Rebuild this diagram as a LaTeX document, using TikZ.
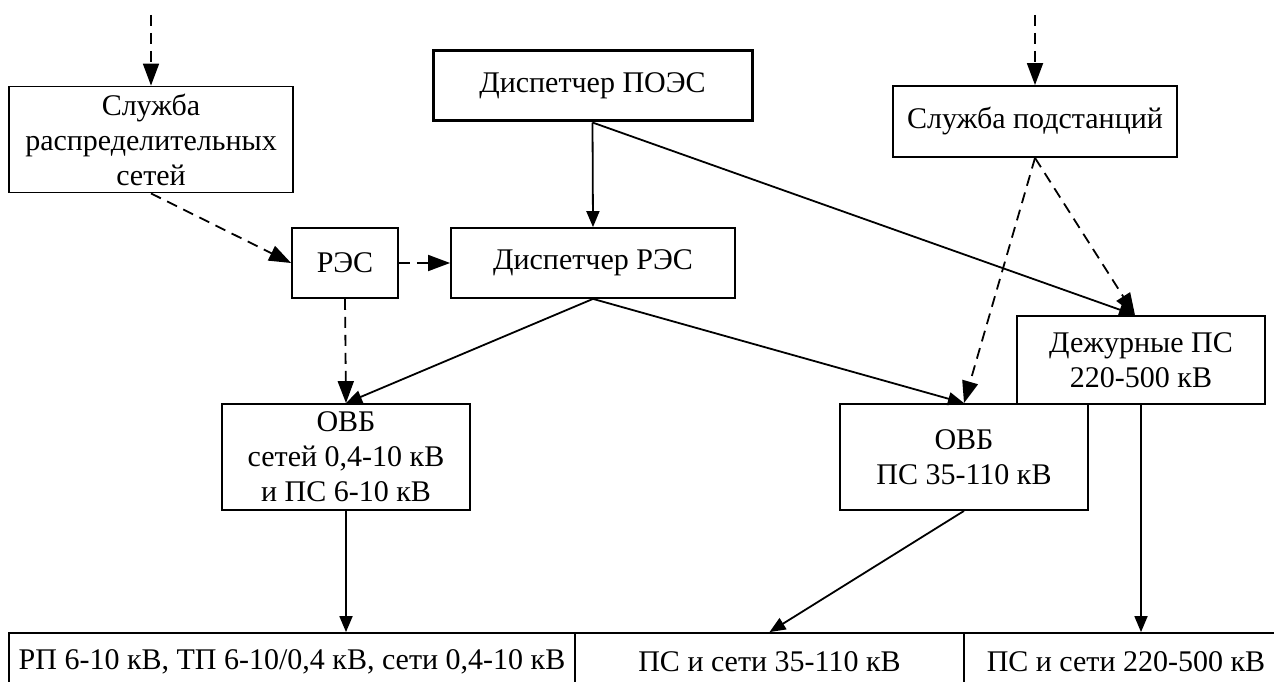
\documentclass[tikz,border=0pt]{standalone}
\usepackage{fontspec}
\setmainfont{Liberation Serif}
\usetikzlibrary{arrows.meta,calc}

\begin{document}
\begin{tikzpicture}[x=1pt,y=-1pt,
  box/.style={draw,line width=1.8pt,inner sep=0pt,align=center,
    font=\fontsize{30}{35}\selectfont},
  main/.style={box,line width=3pt},
  cell/.style={box},
  link/.style={line width=1.8pt,-{Triangle[length=16pt,width=13pt]}},
  dlink/.style={line width=1.8pt,dash pattern=on 11pt off 7pt,
    -{Triangle[length=22pt,width=16pt]}}]
  \useasboundingbox (0,0) rectangle (1274,682);
  \clip (0,0) rectangle (1274,682);

  % management level
  \node[box,minimum width=284pt,minimum height=106pt] (srs) at (151,139.5)
    {Служба\\распределительных\\сетей};
  \node[main,minimum width=319pt,minimum height=70pt] (poes) at (592.5,86)
    {Диспетчер ПОЭС};
  \node[box,minimum width=284pt,minimum height=71pt] (ssub) at (1035,121.5)
    {Служба подстанций};

  % dispatch level
  \node[box,minimum width=106pt,minimum height=70pt] (res) at (345,263) {РЭС};
  \node[box,minimum width=284pt,minimum height=70pt] (dres) at (593,263)
    {Диспетчер РЭС};
  \node[box,minimum width=248pt,minimum height=88pt] (duty) at (1141,360)
    {Дежурные ПС\\220-500 кВ};

  % field crews
  \node[box,minimum width=248pt,minimum height=106pt] (ovb1) at (346,457)
    {ОВБ\\сетей 0,4-10 кВ\\и ПС 6-10 кВ};
  \node[box,minimum width=248pt,minimum height=106pt] (ovb2) at (964,457)
    {ОВБ\\ПС 35-110 кВ};

  % equipment row
  \node[cell,minimum width=566pt,minimum height=57pt] (c1) at (292,661.5)
    {РП 6-10 кВ, ТП 6-10/0,4 кВ, сети 0,4-10 кВ};
  \node[cell,minimum width=389pt,minimum height=57pt] (c2) at (769.5,661.5)
    {ПС и сети 35-110 кВ};
  \node[cell,minimum width=324pt,minimum height=57pt] (c3) at (1126,661.5)
    {ПС и сети 220-500 кВ};

  % incoming links from above
  \coordinate (srsin) at (151,15);
  \coordinate (ssubin) at (1035,15);
  \coordinate (dutyin) at ($(duty.north)+(-6,0)$);

  \draw[dlink] (srsin) -- (srs.north);
  \draw[dlink] (ssubin) -- (ssub.north);
  \draw[dlink] (srs.south) -- (res.west);
  \draw[dlink] (res.east) -- (dres.west);
  \draw[dlink] (res.south) -- (ovb1.north);
  \draw[dlink] (ssub.south) -- (ovb2.north);
  \draw[dlink] (ssub.south) -- (dutyin);

  \draw[link] (poes.south) -- (dres.north);
  \draw[link] (poes.south) -- (dutyin);
  \draw[link] (dres.south) -- (ovb1.north);
  \draw[link] (dres.south) -- (ovb2.north);
  \draw[link] (ovb1.south) -- (ovb1.south |- c1.north);
  \draw[link] (ovb2.south) -- (c2.north);
  \draw[link] (duty.south) -- (duty.south |- c3.north);
\end{tikzpicture}
\end{document}
